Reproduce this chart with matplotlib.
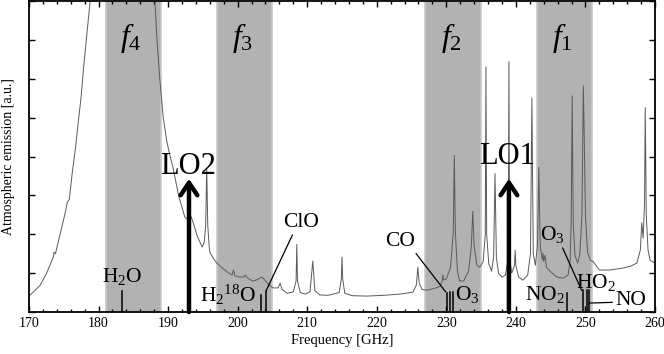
import numpy as np
import matplotlib
matplotlib.use("Agg")
import matplotlib.pyplot as plt
from matplotlib.ticker import MultipleLocator

plt.rcParams['font.family'] = ['Liberation Serif', 'DejaVu Serif']
plt.rcParams['mathtext.fontset'] = 'custom'
plt.rcParams['mathtext.rm'] = 'Liberation Serif'
plt.rcParams['mathtext.it'] = 'Liberation Serif:italic'

# spectrum (GHz, arbitrary units)
freq = [170.0, 171.0, 171.6, 172.4, 173.0, 173.5, 173.6, 173.8, 174.5, 175.2,
        175.5, 175.8, 176.2, 176.7, 177.1, 177.5, 177.8, 178.1, 178.4, 178.8,
        179.5, 180.5, 181.5, 182.5, 183.3, 184.2, 185.2, 186.2, 187.2, 188.1,
        188.4, 188.8, 189.3, 189.8, 190.3, 190.7, 191.5, 192.4, 193.0, 193.3,
        193.6, 194.2, 194.9, 195.2, 195.4, 195.55, 195.7, 195.9, 196.0, 196.5,
        197.0, 197.8, 198.5, 199.2, 199.4, 199.6, 200.3, 200.9, 201.1, 201.4,
        202.2, 202.9, 203.5, 203.9, 204.5, 205.1, 205.8, 206.1, 206.4, 207.1,
        208.0, 208.4, 208.5, 208.6, 209.0, 209.7, 210.4, 210.8, 211.1, 211.8,
        213.0, 214.6, 214.9, 215.0, 215.1, 215.4, 216.5, 218.6, 221.0, 223.3,
        225.2, 225.7, 225.9, 226.1, 226.5, 227.2, 228.5, 229.1, 229.4, 229.5,
        229.6, 230.0, 230.6, 231.0, 231.15, 231.3, 231.6, 231.9, 232.5, 233.2,
        233.6, 233.8, 234.0, 234.4, 234.8, 235.3, 235.6, 235.7, 235.8, 236.1,
        236.5, 236.8, 237.0, 237.2, 237.5, 238.0, 238.5, 238.9, 239.0, 239.1,
        239.4, 239.8, 239.9, 240.0, 240.4, 241.0, 241.7, 242.1, 242.3, 242.5,
        242.8, 243.1, 243.3, 243.5, 243.8, 243.9, 244.0, 244.2, 244.4, 244.9,
        245.9, 246.8, 247.5, 247.8, 247.95, 248.1, 248.25, 248.5, 248.9, 249.2,
        249.5, 249.6, 249.7, 249.85, 250.0, 250.3, 250.7, 251.1, 251.3, 252.0,
        253.5, 255.4, 256.5, 257.4, 257.9, 258.1, 258.3, 258.5, 258.6, 258.75,
        259.0, 259.3, 260.0]
emission = [0.41, 0.58, 0.69, 0.95, 1.20, 1.42, 1.54, 1.50, 2.03, 2.55,
            2.82, 2.90, 3.56, 4.25, 4.92, 5.55, 6.20, 6.75, 7.30, 8.00,
            9.8, 13.0, 20.0, 35.0, 60.0, 35.0, 20.0, 13.0, 9.8, 8.0,
            7.0, 6.0, 5.0, 4.4, 4.0, 3.72, 3.0, 2.44, 2.35, 2.45,
            2.30, 1.95, 1.67, 1.80, 2.23, 3.69, 2.23, 1.70, 1.54, 1.38,
            1.26, 1.13, 1.03, 0.95, 1.08, 0.93, 0.90, 0.90, 0.95, 0.88,
            0.79, 0.84, 0.90, 0.82, 0.70, 0.62, 0.62, 0.74, 0.58, 0.48,
            0.52, 0.80, 1.74, 0.80, 0.50, 0.46, 0.52, 1.31, 0.55, 0.44,
            0.43, 0.50, 0.85, 1.41, 0.85, 0.48, 0.42, 0.41, 0.43, 0.46,
            0.51, 0.70, 1.15, 0.75, 0.58, 0.56, 0.62, 0.66, 0.80, 0.95,
            0.82, 0.85, 1.15, 2.05, 4.03, 2.05, 1.05, 0.80, 0.80, 1.05,
            1.70, 2.59, 1.70, 1.20, 1.15, 1.30, 2.0, 6.31, 2.0, 1.25,
            1.05, 1.40, 3.56, 1.40, 1.0, 0.9, 0.95, 1.4, 6.44, 1.4,
            1.0, 1.2, 1.59, 1.2, 0.9, 0.82, 0.95, 1.5, 5.51, 1.5,
            1.2, 1.7, 3.72, 1.7, 1.35, 1.51, 1.3, 1.46, 1.15, 1.05,
            0.90, 0.87, 0.95, 1.3, 2.3, 5.56, 2.3, 1.45, 1.26, 1.5,
            2.5, 4.3, 5.82, 4.3, 2.5, 1.55, 1.33, 1.30, 1.25, 1.08,
            1.08, 1.13, 1.18, 1.26, 1.6, 2.30, 1.9, 2.8, 5.26, 2.5,
            1.6, 1.33, 1.26]

bands = [(181, 189), (197, 205), (227, 235), (243, 251)]
band_names = ['$f_4$', '$f_3$', '$f_2$', '$f_1$']

lo_names = ['LO2', 'LO1']
lo_freq = [193.0, 239.0]
lo_top = 3.43

# molecule line markers
mark_freq = [183.3, 203.35, 204.1, 230.15, 230.5, 231.0, 247.3, 249.6, 250.2, 250.55]
mark_top = [0.54, 0.45, 0.54, 0.50, 0.52, 0.52, 0.50, 0.56, 0.56, 0.56]

fig = plt.figure(figsize=(6.64, 3.54), dpi=100)
ax = fig.add_axes([0.0437, 0.1186, 0.9427, 0.8784])

for (a, b), name in zip(bands, band_names):
    ax.axvspan(a, b, facecolor='#b2b2b2', edgecolor='#c8c8c8', lw=1.2, zorder=0)
    ax.text((a + b) / 2 - 0.3, 7.05, name, fontsize=23, ha='center', va='center')

ax.plot(freq, emission, color='#5a5a5a', lw=0.7, zorder=2)

for f, t in zip(mark_freq, mark_top):
    ax.plot([f, f], [0, t], color='k', lw=1.1, zorder=3)

for name, f in zip(lo_names, lo_freq):
    ax.annotate('', xy=(f, lo_top), xytext=(f, 0),
                arrowprops=dict(arrowstyle='->, head_length=0.45, head_width=0.3',
                                lw=3.2, color='k', mutation_scale=20,
                                shrinkA=0, shrinkB=0), zorder=4)
ax.text(192.9, 3.56, 'LO2', fontsize=22, ha='center', va='baseline')
ax.text(238.7, 3.82, 'LO1', fontsize=22, ha='center', va='baseline')

fs = 15.5
ax.text(183.4, 0.77, 'H$_2$O', fontsize=fs, ha='center', va='baseline')
ax.text(202.6, 0.26, 'H$_2$$^{18}$O', fontsize=fs, ha='right', va='baseline')
ax.text(231.3, 0.31, 'O$_3$', fontsize=fs, ha='left', va='baseline')
ax.text(244.2, 0.31, 'NO$_2$', fontsize=fs, ha='center', va='baseline')
ax.text(251.5, 0.62, 'HO$_2$', fontsize=fs, ha='center', va='baseline')

line = dict(arrowstyle='-', color='k', lw=0.9, shrinkA=0, shrinkB=0)
ax.annotate('ClO', xy=(204.1, 0.55), xytext=(209.1, 2.3), fontsize=fs,
            ha='center', va='center', arrowprops=dict(line, relpos=(0.3, 0.0)))
ax.annotate('CO', xy=(229.9, 0.52), xytext=(223.3, 1.82), fontsize=fs,
            ha='center', va='center', arrowprops=dict(line, relpos=(0.95, 0.05)))
ax.annotate('O$_3$', xy=(249.45, 0.56), xytext=(245.3, 1.85), fontsize=fs,
            ha='center', va='baseline', arrowprops=dict(line, relpos=(0.85, 0.0)))
ax.annotate('NO', xy=(250.6, 0.23), xytext=(256.5, 0.3), fontsize=fs,
            ha='center', va='center', arrowprops=dict(line, relpos=(0.0, 0.4)))

ax.set_xlim(170, 260)
ax.set_ylim(0, 8)
ax.xaxis.set_major_locator(MultipleLocator(10))
ax.xaxis.set_minor_locator(MultipleLocator(2))
ax.yaxis.set_major_locator(MultipleLocator(1))
ax.tick_params(which='both', direction='in', top=True, right=True, labelsize=10)
ax.tick_params(which='major', length=4, width=1)
ax.tick_params(which='minor', length=2.5, width=1)
ax.tick_params(axis='y', labelleft=False)
for s in ax.spines.values():
    s.set_linewidth(1.3)

ax.set_xlabel('Frequency [GHz]', fontsize=10.5, labelpad=3)
ax.set_ylabel('Atmospheric emission [a.u.]', fontsize=10, labelpad=10)

fig.savefig('out.png', dpi=100)
